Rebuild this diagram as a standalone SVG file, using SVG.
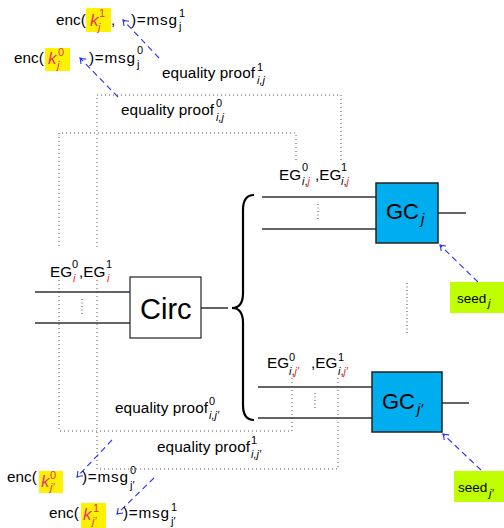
<svg xmlns="http://www.w3.org/2000/svg" width="504" height="528" viewBox="0 0 504 528">
<style>
text{font-family:"Liberation Sans",Arial,sans-serif;font-size:15.3px;fill:#000}
.s{font-size:11px}
.it{font-style:italic}
.r{fill:#FF2222}
.k{fill:#E8336A}
.kk{font-size:17px;font-style:italic;fill:#E8336A}
.dot{fill:none;stroke:#555;stroke-width:1;stroke-dasharray:1 3}
.vd{fill:none;stroke:#444;stroke-width:1;stroke-dasharray:1 2.5}
.wire{stroke:#333;stroke-width:1.3;fill:none}
.arr{stroke:#2B2BFF;stroke-width:1.1;stroke-dasharray:6 4;fill:none;marker-end:url(#ah)}
.hl{fill:#FFF200}
.gc{fill:#00AEEF;stroke:#222;stroke-width:1.5}
.seed{fill:#BFFF00}
.sd{font-size:13.5px}
</style>
<defs>
<marker id="ah" markerUnits="userSpaceOnUse" markerWidth="12" markerHeight="12" viewBox="-8 -6 10 12" refX="0" refY="0" orient="auto">
<path d="M-5,-3.5 Q-2,-1 0,0 Q-2,1 -5,3.5" fill="none" stroke="#2B2BFF" stroke-width="1.1" stroke-dasharray="none"/>
</marker>
</defs>

<g id="connectors">
<path class="dot" d="M341,160 L341,95 L97,95 L97,248"/>
<path class="dot" d="M97,280 L97,469 L338,469 L338,378"/>
<path class="dot" d="M296,160 L296,133 L59,133 L59,248"/>
<path class="dot" d="M59,280 L59,431 L292,431 L292,378"/>
<path class="wire" d="M35,292 H130 M35,323 H130 M201,308 H228"/>
<path class="wire" d="M262,197 H376 M262,229 H376 M438,213 H466"/>
<path class="wire" d="M258,387 H372 M258,418 H372 M442,403 H469"/>
<path class="vd" d="M82,299 V315 M318,204 V221 M315,393 V409 M407,283 V334"/>
<path d="M254,195 Q243,195 243,210 L243,293 Q243,308 232,308 Q243,308 243,323 L243,405 Q243,420 254,420" fill="none" stroke="#000" stroke-width="2.2"/>
<path class="arr" d="M159,58 L123,20"/>
<path class="arr" d="M118,97 L80,58"/>
<path class="arr" d="M112,440 L77,477"/>
<path class="arr" d="M154,478 L117,514"/>
<path class="arr" d="M478,282 L440,245"/>
<path class="arr" d="M481,470 L443,434"/>
</g>

<g id="circ">
<rect x="130" y="277" width="71" height="61" fill="#fff" stroke="#222" stroke-width="1.2"/>
<text x="140" y="319" style="font-size:29px">Circ</text>
</g>

<g id="gcj">
<rect class="gc" x="376" y="183" width="62" height="60"/>
<text x="386" y="219" style="font-size:22px">GC</text>
<text x="421" y="224" class="it" style="font-size:15px">j</text>
</g>

<g id="gcjp">
<rect class="gc" x="372" y="372" width="70" height="60"/>
<text x="382" y="409" style="font-size:22px">GC</text>
<text x="417" y="414" class="it" style="font-size:15px">j′</text>
</g>

<g id="seedj">
<rect class="seed" x="450" y="282" width="54" height="31"/>
<text x="457" y="303" class="sd">seed</text>
<text x="488" y="307" class="s it">j</text>
</g>

<g id="seedjp">
<rect class="seed" x="454" y="471" width="50" height="31"/>
<text x="458" y="492" class="sd">seed</text>
<text x="489" y="497" class="s it">j′</text>
</g>

<g id="label-eg-i">
<text x="50" y="277">EG</text>
<text x="72" y="268" class="s">0</text>
<text x="73" y="282" class="s it r">i</text>
<text x="79" y="277">,EG</text>
<text x="106" y="268" class="s">1</text>
<text x="107" y="282" class="s it r">i</text>
</g>

<g id="label-eg-ij">
<text x="279" y="180">EG</text>
<text x="302" y="171" class="s">0</text>
<text x="302" y="185" class="s"><tspan class="it">i</tspan>,<tspan class="it r">j</tspan></text>
<text x="315" y="180">,EG</text>
<text x="341" y="171" class="s">1</text>
<text x="341" y="185" class="s"><tspan class="it">i</tspan>,<tspan class="it r">j</tspan></text>
</g>

<g id="label-eg-ijp">
<text x="267" y="368">EG</text>
<text x="289" y="361" class="s">0</text>
<text x="289" y="375" class="s"><tspan class="it">i</tspan>,<tspan class="it r">j′</tspan></text>
<text x="311" y="368">,EG</text>
<text x="338" y="361" class="s">1</text>
<text x="338" y="375" class="s"><tspan class="it">i</tspan>,<tspan class="it r">j′</tspan></text>
</g>

<g id="proof1-ij">
<text x="162" y="78" textLength="93" lengthAdjust="spacing">equality proof</text>
<text x="257" y="71" class="s">1</text>
<text x="257" y="84" class="s it">i,j</text>
</g>
<g id="proof0-ij">
<text x="121" y="115" textLength="93" lengthAdjust="spacing">equality proof</text>
<text x="216" y="107" class="s">0</text>
<text x="216" y="121" class="s it">i,j</text>
</g>
<g id="proof0-ijp">
<text x="115" y="413" textLength="93" lengthAdjust="spacing">equality proof</text>
<text x="209" y="405" class="s">0</text>
<text x="209" y="419" class="s it">i,j′</text>
</g>
<g id="proof1-ijp">
<text x="157" y="452" textLength="93" lengthAdjust="spacing">equality proof</text>
<text x="251" y="444" class="s">1</text>
<text x="251" y="458" class="s it">i,j′</text>
</g>

<g id="enc1-j">
<rect class="hl" x="86" y="8" width="25" height="24"/>
<text x="56" y="25">enc(</text>
<text x="90" y="26" class="kk">k</text>
<text x="99" y="17" class="s k">1</text>
<text x="98" y="31" class="s it k">j</text>
<text x="111" y="25">,</text>
<text x="131" y="25" textLength="46" lengthAdjust="spacing">)=msg</text>
<text x="179" y="17" class="s">1</text>
<text x="179" y="30" class="s">j</text>
</g>

<g id="enc0-j">
<rect class="hl" x="45" y="48" width="25" height="23"/>
<text x="14" y="63">enc(</text>
<text x="48" y="64" class="kk">k</text>
<text x="58" y="56" class="s k">0</text>
<text x="57" y="69" class="s it k">j</text>
<text x="89" y="63" textLength="46" lengthAdjust="spacing">)=msg</text>
<text x="137" y="54" class="s">0</text>
<text x="137" y="68" class="s">j</text>
</g>

<g id="enc0-jp">
<rect class="hl" x="39" y="471" width="24" height="22"/>
<text x="7" y="482">enc(</text>
<text x="41" y="487" class="kk">k</text>
<text x="50" y="479" class="s k">0</text>
<text x="50" y="491" class="s it k">j′</text>
<text x="82" y="482" textLength="46" lengthAdjust="spacing">)=msg</text>
<text x="130" y="474" class="s">0</text>
<text x="130" y="489" class="s">j′</text>
</g>

<g id="enc1-jp">
<rect class="hl" x="81" y="503" width="25" height="25"/>
<text x="49" y="518">enc(</text>
<text x="83" y="520" class="kk">k</text>
<text x="93" y="512" class="s k">1</text>
<text x="92" y="525" class="s it k">j′</text>
<text x="123" y="518" textLength="46" lengthAdjust="spacing">)=msg</text>
<text x="171" y="511" class="s">1</text>
<text x="171" y="525" class="s">j′</text>
</g>
</svg>
